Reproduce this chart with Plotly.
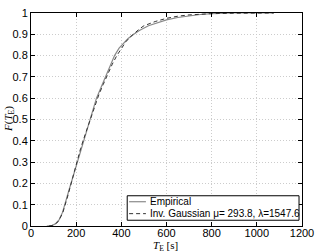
import plotly.graph_objects as go

# empirical CDF of T_E
emp_t = [70, 95, 110, 125, 140, 150, 160, 170, 180, 190, 200, 210, 220, 232, 245,
         260, 275, 290, 310, 330, 350, 370, 390, 410, 430, 455, 480, 520, 560, 600,
         650, 700, 750, 800, 850, 900, 1075]
emp_f = [0, 0.003, 0.012, 0.03, 0.065, 0.105, 0.14, 0.175, 0.21, 0.245, 0.285, 0.325,
         0.36, 0.4, 0.445, 0.5, 0.55, 0.6, 0.65, 0.7, 0.75, 0.8, 0.835, 0.86, 0.88,
         0.9, 0.918, 0.94, 0.955, 0.968, 0.979, 0.987, 0.993, 0.997, 0.999, 1.0, 1.0]

# inverse gaussian fit
fit_t = [80, 100, 120, 140, 160, 180, 200, 220, 240, 260, 280, 300, 320, 340, 360,
         380, 400, 420, 440, 460, 480, 500, 550, 600, 650, 700, 750, 800, 900, 1000, 1075]
fit_f = [0, 0.004, 0.02, 0.06, 0.13, 0.21, 0.29, 0.365, 0.43, 0.495, 0.56, 0.615,
         0.665, 0.715, 0.76, 0.8, 0.835, 0.865, 0.888, 0.908, 0.925, 0.94, 0.96,
         0.975, 0.985, 0.991, 0.995, 0.997, 0.999, 1.0, 1.0]

names = ["Empirical", "Inv. Gaussian μ= 293.8, λ=1547.6"]
col_emp = "#8a8a8a"
col_fit = "#333333"
dash_fit = "4px,3px"

fig = go.Figure()
fig.add_trace(go.Scatter(x=emp_t, y=emp_f, mode="lines", name=names[0],
                         line=dict(color=col_emp, width=1.2), showlegend=False))
fig.add_trace(go.Scatter(x=fit_t, y=fit_f, mode="lines", name=names[1],
                         line=dict(color=col_fit, width=1, dash=dash_fit), showlegend=False))

ax = dict(showline=True, linecolor="black", linewidth=1, mirror="ticks",
          ticks="inside", ticklen=4, tickcolor="black",
          showgrid=True, gridcolor="#cccccc", griddash="1px,2px", gridwidth=1,
          zeroline=False, tickfont=dict(size=11, color="black"))

fig.update_xaxes(ax, range=[0, 1200], dtick=200, ticklabelstandoff=-3)
fig.update_yaxes(ax, range=[0, 1], tickvals=[i / 10 for i in range(11)],
                 ticktext=["0", "0.1", "0.2", "0.3", "0.4", "0.5", "0.6", "0.7", "0.8", "0.9", "1"])

serif = dict(family="Liberation Serif", size=11, color="black")
fig.add_annotation(text="<i>T</i><sub>E</sub> [s]", xref="paper", yref="paper",
                   x=0.496, y=-0.092, xanchor="center", yanchor="middle",
                   showarrow=False, font=serif)
fig.add_annotation(text="<i>F</i>(<i>T</i><sub>E</sub>)", xref="paper", yref="paper",
                   x=-0.083, y=0.5, xanchor="center", yanchor="middle",
                   textangle=-90, showarrow=False, font=serif)

# hand-drawn legend box (matlab style, compact)
fig.add_shape(type="rect", xref="paper", yref="paper", x0=0.355, x1=0.989,
              y0=0.027, y1=0.142, line=dict(color="black", width=1), fillcolor="white",
              layer="above")
rows_y = [0.114, 0.058]
line_styles = [dict(color=col_emp, width=1.2), dict(color=col_fit, width=1, dash=dash_fit)]
for ry, nm, ls in zip(rows_y, names, line_styles):
    fig.add_shape(type="line", xref="paper", yref="paper", x0=0.362, x1=0.424,
                  y0=ry, y1=ry, line=ls, layer="above")
    fig.add_annotation(text=nm, xref="paper", yref="paper", x=0.431, y=ry,
                       xanchor="left", yanchor="middle", showarrow=False,
                       font=dict(size=10, color="black"))

fig.update_layout(
    width=321, height=252,
    margin=dict(l=31, r=14, t=7, b=26),
    paper_bgcolor="white", plot_bgcolor="white",
    font=dict(family="Liberation Sans", size=11, color="black"),
    showlegend=False,
)

# drop the default page margin so the figure sits at the window's corner
fig.write_html("out.html", config={"displayModeBar": False},
               post_script="document.body.style.margin='0';")
